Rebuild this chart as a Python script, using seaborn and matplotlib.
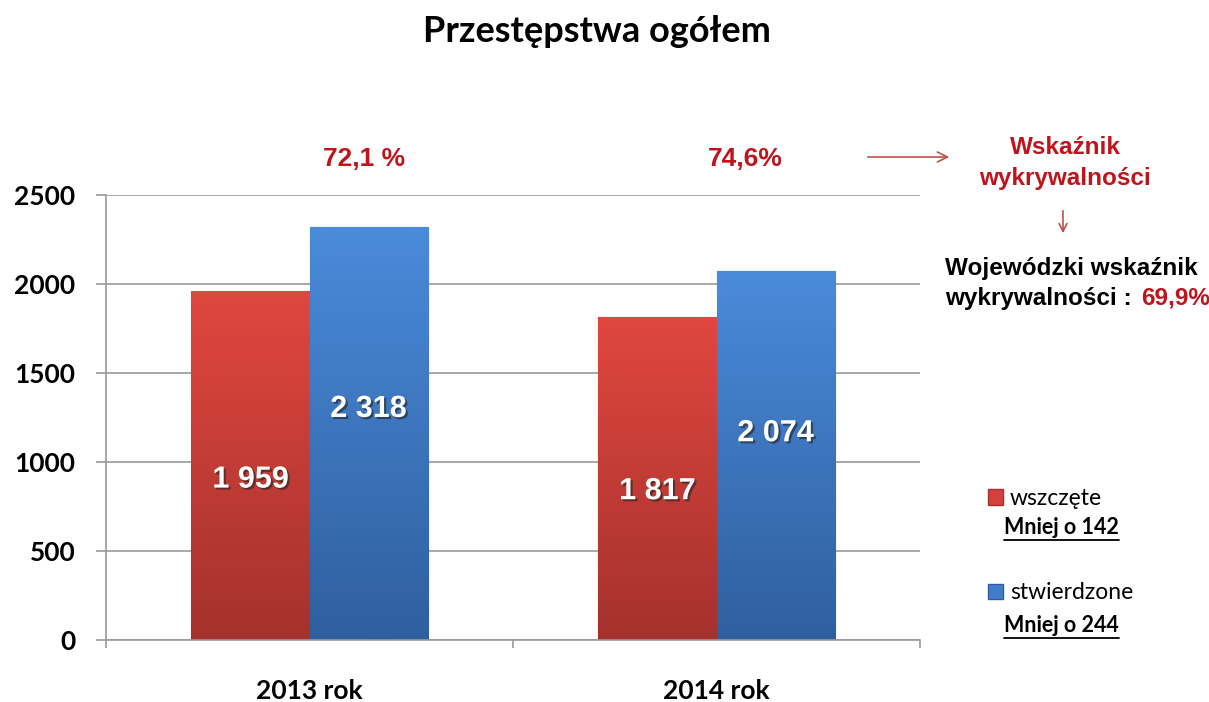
import matplotlib
matplotlib.use("Agg")
import matplotlib.pyplot as plt
import matplotlib.patheffects as pe
from matplotlib.lines import Line2D
from matplotlib.patches import Patch
import numpy as np
import pandas as pd
import seaborn as sns

# data
years = ["2013 rok", "2014 rok"]
series = ["wszczęte", "stwierdzone"]
wszczete = [1959, 1817]
stwierdzone = [2318, 2074]
bar_labels = {"wszczęte": ["1 959", "1 817"], "stwierdzone": ["2 318", "2 074"]}
pct_labels = ["72,1 %", "74,6%"]
diff_labels = ["Mniej o 142", "Mniej o 244"]
yticks = [0, 500, 1000, 1500, 2000, 2500]

colors = {"wszczęte": "#d4413c", "stwierdzone": "#3e7ccc"}
grad = {"wszczęte": ("#e0473f", "#a5312d"), "stwierdzone": ("#4a8bda", "#2f5f9f")}

df = pd.DataFrame({
    "rok": years * 2,
    "seria": [series[0]] * 2 + [series[1]] * 2,
    "wartosc": wszczete + stwierdzone,
})

sns.set_theme(style="white")
plt.rcParams["font.family"] = ["Lato", "DejaVu Sans"]
plt.rcParams["text.color"] = "black"
plt.rcParams["xtick.color"] = "black"
plt.rcParams["ytick.color"] = "black"

W, H = 1209, 702
fig = plt.figure(figsize=(W / 100, H / 100), dpi=100)
ax = fig.add_axes([106 / W, 1 - 640 / H, 814 / W, 445 / H])

sns.barplot(data=df, x="rok", y="wartosc", hue="seria", palette=colors,
            width=0.58, gap=0, saturation=1, ax=ax, legend=False,
            edgecolor="none", linewidth=0)

ax.set_xlim(-0.5, 1.5)
ax.set_ylim(0, 2500)
ax.set_yticks(yticks)
ax.set_xlabel("")
ax.set_ylabel("")
ax.yaxis.grid(True, color="#9a9a9a", linewidth=1.2)
ax.set_axisbelow(True)
for s in ["top", "right"]:
    ax.spines[s].set_visible(False)
for s in ["left", "bottom"]:
    ax.spines[s].set_color("#9a9a9a")
    ax.spines[s].set_linewidth(1.2)

ax.tick_params(axis="y", length=7, width=1.2, color="#9a9a9a", pad=15,
               labelsize=19, left=True, labelcolor="black")
ax.tick_params(axis="x", which="major", length=0, pad=28, labelsize=19,
               labelcolor="black")
ax.set_xticks([-0.5, 0.5, 1.5], minor=True)
ax.tick_params(axis="x", which="minor", length=6, width=1.2, color="#9a9a9a",
               bottom=True)
for lab in ax.get_xticklabels() + ax.get_yticklabels():
    lab.set_fontweight("bold")

# gradient fill on bars
bars = list(ax.patches)
order = [series[0]] * 2 + [series[1]] * 2
for bar, name in zip(bars, order):
    x0, y0 = bar.get_x(), bar.get_y()
    w, h = bar.get_width(), bar.get_height()
    c_top, c_bot = grad[name]
    cmap = matplotlib.colors.LinearSegmentedColormap.from_list("g", [c_bot, c_top])
    img = ax.imshow(np.linspace(0, 1, 256).reshape(-1, 1), cmap=cmap,
                    extent=[x0, x0 + w, y0, y0 + h], origin="lower",
                    aspect="auto", zorder=bar.get_zorder() + 0.1)
    img.set_clip_path(bar)
    bar.set_edgecolor(c_bot)
    bar.set_linewidth(0.8)
ax.set_xlim(-0.5, 1.5)
ax.set_ylim(0, 2500)

# labels inside bars
shadow = [pe.SimplePatchShadow(offset=(1.5, -1.5), shadow_rgbFace="#222222", alpha=0.6),
          pe.Normal()]
frac = {"wszczęte": 0.46, "stwierdzone": 0.56}
for bar, name, i in zip(bars, order, [0, 1, 0, 1]):
    ax.text(bar.get_x() + bar.get_width() / 2, bar.get_height() * frac[name],
            bar_labels[name][i], ha="center", va="center", color="white",
            fontsize=22, fontweight="bold", family="Liberation Sans",
            path_effects=shadow, zorder=5)

red = "#c0141c"

# detection rate above each year
for i, t in enumerate(pct_labels):
    ax.text(i + 0.135 - 0.065 * i, 2700, t, ha="center", va="center", color=red,
            fontsize=19, fontweight="bold", family="Liberation Sans",
            clip_on=False)

def fx(px):
    return px / W

def fy(py):
    return 1 - py / H

fig.text(fx(597), fy(31), "Przestępstwa ogółem", ha="center", va="center",
         fontsize=26, fontweight="bold", color="black")

fig.text(fx(1065), fy(148), "Wskaźnik", ha="center", va="center", color=red,
         fontsize=17.5, fontweight="bold", family="Liberation Sans")
fig.text(fx(1065), fy(178), "wykrywalności", ha="center", va="center", color=red,
         fontsize=17.5, fontweight="bold", family="Liberation Sans")
fig.add_artist(matplotlib.patches.FancyArrowPatch(
    (fx(865), fy(157)), (fx(952), fy(157)), transform=fig.transFigure,
    arrowstyle="->", mutation_scale=18, color="#c0504d", linewidth=1.2))
fig.add_artist(matplotlib.patches.FancyArrowPatch(
    (fx(1063), fy(208)), (fx(1063), fy(236)), transform=fig.transFigure,
    arrowstyle="->", mutation_scale=14, color="#c0504d", linewidth=1.2))
fig.text(fx(945), fy(268), "Wojewódzki wskaźnik", ha="left", va="center",
         color="black", fontsize=17.5, fontweight="bold", family="Liberation Sans")
t1 = fig.text(fx(945), fy(298), "wykrywalności :", ha="left", va="center",
              color="black", fontsize=17.5, fontweight="bold", family="Liberation Sans")
fig.canvas.draw()
x_end = t1.get_window_extent().x1
fig.text(x_end / W + fx(9), fy(298), "69,9%", ha="left", va="center", color=red,
         fontsize=17.5, fontweight="bold", family="Liberation Sans")

# legend
handles = [Patch(facecolor=colors[s], edgecolor=grad[s][1]) for s in series]
leg = fig.legend(handles, series, loc="upper left",
                 bbox_to_anchor=(fx(988), fy(488)), frameon=False,
                 fontsize=16.5, handlelength=0.65, handleheight=0.65,
                 handletextpad=0.3, labelspacing=3.2, borderpad=0, borderaxespad=0)

for py, t in zip([527, 625], diff_labels):
    txt = fig.text(fx(1004), fy(py), t, ha="left", va="center", fontsize=15.5,
                   fontweight="bold", color="black")
    fig.canvas.draw()
    bb = txt.get_window_extent()
    fig.add_artist(Line2D([bb.x0 / W, bb.x1 / W], [fy(py + 13)] * 2,
                          transform=fig.transFigure, color="black", linewidth=1.3))

fig.savefig("out.png", dpi=100, facecolor="white")
